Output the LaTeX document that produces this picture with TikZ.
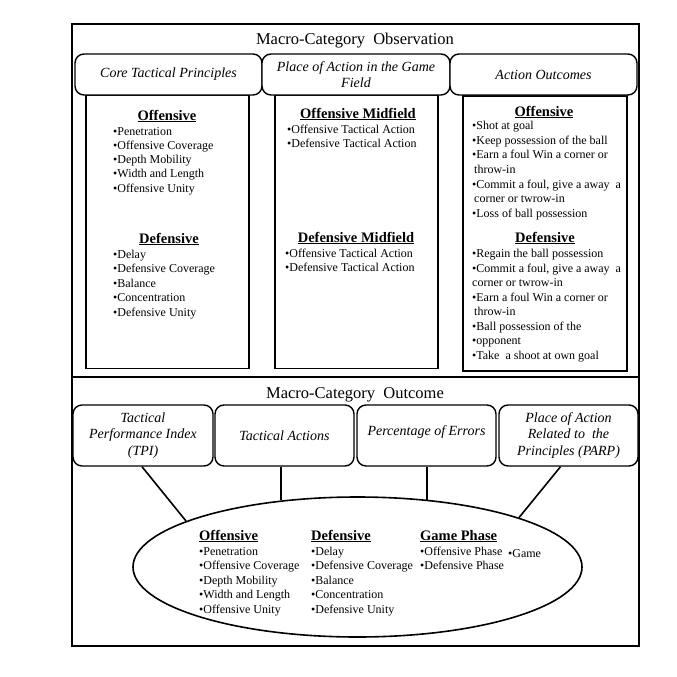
\documentclass[tikz,border=0pt]{standalone}
\usepackage{fontspec}
\setmainfont{Liberation Serif}
\usetikzlibrary{shapes.geometric}
\begin{document}
\begin{tikzpicture}[x=1pt,y=-1pt,
  frame/.style={draw, line width=1.6pt},
  colbox/.style={draw, line width=1.4pt, inner sep=0},
  rbox/.style={draw, fill=white, line width=1.4pt, rounded corners=9pt, inner sep=0, align=center,
    font=\fontsize{14}{16.5}\selectfont\itshape},
  conn/.style={line width=1.6pt},
  titletext/.style={font=\fontsize{16.5}{18}\selectfont, inner sep=0, anchor=base},
  sub/.style={font=\fontsize{14.5}{16}\selectfont\bfseries, inner sep=0, anchor=base},
  subw/.style={font=\fontsize{14.5}{16}\selectfont\bfseries, inner sep=0, anchor=base west},
  item/.style={font=\fontsize{12}{14}\selectfont, anchor=base west, inner sep=0},
]
\useasboundingbox (0,0) rectangle (677,677);
% outer frame and divider
\draw[frame] (72,24) rectangle (639,646);
\draw[frame] (72,377) -- (639,377);
\node[titletext] (t1) at (355,45) {Macro-Category\ \ Observation};
\node[titletext] (t2) at (355,398) {Macro-Category\ \ Outcome};

% column rectangles
\node[colbox, minimum width=163pt, minimum height=273pt] (c1) at (167.5,232) {};
\node[colbox, minimum width=163pt, minimum height=273pt] (c2) at (356.5,232) {};
\node[colbox, line width=2pt, minimum width=164pt, minimum height=275pt] (c3) at (544.5,233) {};

% header boxes
\node[rbox, minimum width=187pt, minimum height=41pt] (h1) at (168.5,74.5) {Core Tactical Principles};
\node[rbox, minimum width=188pt, minimum height=41pt] (h2) at (356,74.5) {Place of Action in the Game\\Field};
\node[rbox, minimum width=187pt, minimum height=41pt] (h3) at (543.5,74.5) {Action Outcomes};

% column 1
\node[sub] (c1oh) at (167,120) {\underline{Offensive}};
\foreach \t [count=\i] in {Penetration, Offensive Coverage, Depth Mobility, Width and Length, Offensive Unity}
  \node[item] (c1o\i) at (113,{135+(\i-1)*14.3}) {•\t};
\node[sub] (c1dh) at (169,243) {\underline{Defensive}};
\foreach \t [count=\i] in {Delay, Defensive Coverage, Balance, Concentration, Defensive Unity}
  \node[item] (c1d\i) at (113,{258+(\i-1)*14.5}) {•\t};

% column 2
\node[sub] (c2oh) at (358,118) {\underline{Offensive Midfield}};
\foreach \t [count=\i] in {Offensive Tactical Action, Defensive Tactical Action}
  \node[item] (c2o\i) at (287,{133+(\i-1)*14.3}) {•\t};
\node[sub] (c2dh) at (356,242) {\underline{Defensive Midfield}};
\foreach \t [count=\i] in {Offensive Tactical Action, Defensive Tactical Action}
  \node[item] (c2d\i) at (285,{257+(\i-1)*14.5}) {•\t};

% column 3
\node[sub] (c3oh) at (544,116) {\underline{Offensive}};
\foreach \t [count=\i] in {•Shot at goal, •Keep possession of the ball, •Earn a foul Win a corner or, \hspace{2pt}throw-in, {•Commit a foul, give a away\ \ a}, \hspace{2pt}corner or twrow-in, •Loss of ball possession}
  \node[item] (c3o\i) at (472,{129.5+(\i-1)*14.65}) {\t};
\node[sub] (c3dh) at (545,242) {\underline{Defensive}};
\foreach \t [count=\i] in {•Regain the ball possession, {•Commit a foul, give a away\ \ a}, corner or twrow-in, •Earn a foul Win a corner or, \hspace{2pt}throw-in, •Ball possession of the, •opponent, •Take\ \ a shoot at own goal}
  \node[item] (c3d\i) at (472,{257.5+(\i-1)*14.57}) {\t};

% outcome boxes
\node[rbox, minimum width=140pt, minimum height=61pt] (b1) at (143,435.5) {Tactical\\Performance Index\\(TPI)};
\node[rbox, minimum width=139pt, minimum height=61pt] (b2) at (284.5,435.5) {Tactical Actions};
\node[rbox, minimum width=139pt, minimum height=61pt] (b3) at (426.5,435.5) {\raisebox{3pt}[\height][\depth]{Percentage of Errors}};
\node[rbox, minimum width=139pt, minimum height=61pt] (b4) at (568.5,435.5) {Place of Action\\Related to\ \ the\\Principles (PARP)};

% ellipse
\node[draw, ellipse, line width=1.6pt, minimum width=449pt, minimum height=140pt, inner sep=0] (e) at (357.5,567) {};

% connectors
\draw[conn] ([xshift=-1pt]b1.south) -- (e.165.4);
\draw[conn] (b2.south -| e.139.7) -- (e.139.7);
\draw[conn] (b3.south -| e.44.2) -- (e.44.2);
\draw[conn] ([xshift=-8pt]b4.south) -- (e.17.6);

% ellipse contents
\node[subw] (eoh) at (199,540) {\underline{Offensive}};
\foreach \t [count=\i] in {Penetration, Offensive Coverage, Depth Mobility, Width and Length, Offensive Unity}
  \node[item] (eo\i) at (199,{555+(\i-1)*14.5}) {•\t};
\node[subw] (edh) at (311,540) {\underline{Defensive}};
\foreach \t [count=\i] in {Delay, Defensive Coverage, Balance, Concentration, Defensive Unity}
  \node[item] (ed\i) at (311,{555+(\i-1)*14.5}) {•\t};
\node[subw] (egh) at (420,540) {\underline{Game Phase}};
\foreach \t [count=\i] in {Offensive Phase, Defensive Phase}
  \node[item] (eg\i) at (420,{555+(\i-1)*14.5}) {•\t};
\node[item] (egame) at (508,557) {•Game};
\end{tikzpicture}
\end{document}
